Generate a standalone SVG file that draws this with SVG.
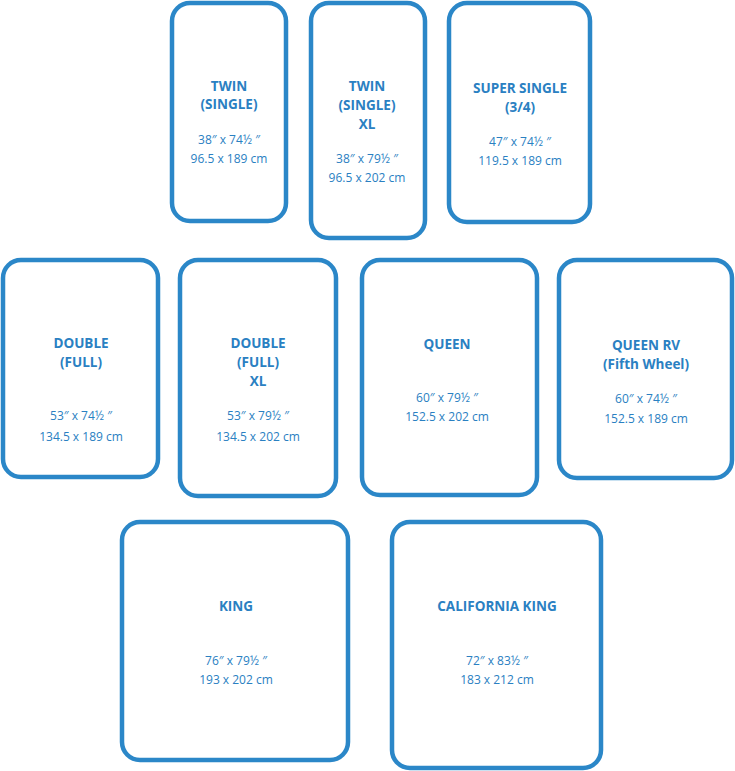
<svg xmlns="http://www.w3.org/2000/svg" width="735" height="771" viewBox="0 0 735 771">
<style>
.b{fill:#fff;stroke:#2b87c8;stroke-width:4.5}
.t{font-family:"Open Sans","Liberation Sans",sans-serif;font-weight:700;font-size:13.5px;fill:#2a80c2;text-anchor:middle}
.d{font-family:"Open Sans","Liberation Sans",sans-serif;font-size:12px;fill:#2a80c2;text-anchor:middle}
</style>
<rect width="735" height="771" fill="#fff"/>
<g id="twin">
<rect class="b" x="172" y="3" width="114" height="218" rx="18"/>
<text class="t" x="229" y="91">TWIN</text>
<text class="t" x="229" y="109">(SINGLE)</text>
<text class="d" x="229" y="144">38″ x 74½ ″</text>
<text class="d" x="229" y="163">96.5 x 189 cm</text>
</g>
<g id="twin-xl">
<rect class="b" x="311" y="3" width="114" height="235" rx="18"/>
<text class="t" x="367" y="91">TWIN</text>
<text class="t" x="367" y="110">(SINGLE)</text>
<text class="t" x="367" y="129">XL</text>
<text class="d" x="367" y="163">38″ x 79½ ″</text>
<text class="d" x="367" y="182">96.5 x 202 cm</text>
</g>
<g id="super-single">
<rect class="b" x="449" y="3" width="141" height="219" rx="18"/>
<text class="t" x="520" y="93">SUPER SINGLE</text>
<text class="t" x="520" y="112">(3/4)</text>
<text class="d" x="520" y="146">47″ x 74½ ″</text>
<text class="d" x="520" y="165">119.5 x 189 cm</text>
</g>
<g id="double">
<rect class="b" x="3" y="260" width="155" height="217" rx="18"/>
<text class="t" x="81" y="348">DOUBLE</text>
<text class="t" x="81" y="367">(FULL)</text>
<text class="d" x="81" y="420">53″ x 74½ ″</text>
<text class="d" x="81" y="441">134.5 x 189 cm</text>
</g>
<g id="double-xl">
<rect class="b" x="180" y="260" width="156" height="236" rx="18"/>
<text class="t" x="258" y="348">DOUBLE</text>
<text class="t" x="258" y="367">(FULL)</text>
<text class="t" x="258" y="386">XL</text>
<text class="d" x="258" y="420">53″ x 79½ ″</text>
<text class="d" x="258" y="441">134.5 x 202 cm</text>
</g>
<g id="queen">
<rect class="b" x="362" y="260" width="175" height="235" rx="18"/>
<text class="t" x="447" y="349">QUEEN</text>
<text class="d" x="447" y="402">60″ x 79½ ″</text>
<text class="d" x="447" y="421">152.5 x 202 cm</text>
</g>
<g id="queen-rv">
<rect class="b" x="559" y="260" width="173" height="218" rx="18"/>
<text class="t" x="646" y="350">QUEEN RV</text>
<text class="t" x="646" y="369">(Fifth Wheel)</text>
<text class="d" x="646" y="403">60″ x 74½ ″</text>
<text class="d" x="646" y="423">152.5 x 189 cm</text>
</g>
<g id="king">
<rect class="b" x="122" y="522" width="226" height="238" rx="18"/>
<text class="t" x="236" y="611">KING</text>
<text class="d" x="236" y="665">76″ x 79½ ″</text>
<text class="d" x="236" y="684">193 x 202 cm</text>
</g>
<g id="california-king">
<rect class="b" x="392" y="522" width="209" height="246" rx="18"/>
<text class="t" x="497" y="611">CALIFORNIA KING</text>
<text class="d" x="497" y="665">72″ x 83½ ″</text>
<text class="d" x="497" y="684">183 x 212 cm</text>
</g>
<g id="connectors"/>
</svg>
